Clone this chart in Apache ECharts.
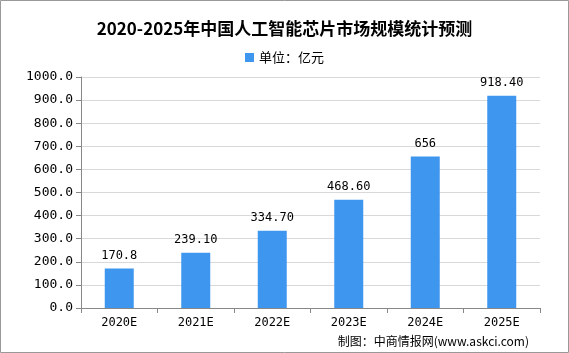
<!DOCTYPE html>
<html><head><meta charset="utf-8">
<script src="https://cdn.jsdelivr.net/npm/echarts@6/dist/echarts.min.js"></script>
<style>html,body{margin:0;padding:0;background:#fff}#c{width:569px;height:353px}</style>
</head><body><div id="c"></div>
<script>
const categories = ['2020E','2021E','2022E','2023E','2024E','2025E'];
const values = [170.8, 239.1, 334.7, 468.6, 656, 918.4];
const valueLabels = ['170.8','239.10','334.70','468.60','656','918.40'];
const seriesName = '单位：亿元';
const titleText = '2020-2025年中国人工智能芯片市场规模统计预测';
const sourceText = '制图：中商情报网(www.askci.com)';

const chart = echarts.init(document.getElementById('c'));
chart.setOption({
  animation: false,
  title: {text: titleText, left: 'center', top: 15,
    textStyle: {fontSize: 17, fontWeight: 'bold', color: '#000', fontFamily: 'Noto Sans CJK SC'}},
  legend: {data: [{name: seriesName, icon: 'rect'}], top: 46, left: 'center', itemWidth: 9, itemHeight: 9, itemGap: 4,
    textStyle: {fontSize: 13, color: '#000', fontFamily: 'Noto Sans CJK SC'}},
  grid: {left: 81, right: 29, top: 77, bottom: 45},
  xAxis: {type: 'category', data: categories,
    axisLine: {lineStyle: {color: '#888'}},
    axisTick: {show: true, length: 5, lineStyle: {color: '#888'}},
    axisLabel: {color: '#000', fontSize: 12, margin: 9, fontFamily: 'DejaVu Sans Mono'}},
  yAxis: {type: 'value', min: 0, max: 1000, interval: 100,
    axisLine: {show: true, lineStyle: {color: '#888'}},
    axisTick: {show: true, length: 5, lineStyle: {color: '#888'}},
    splitLine: {lineStyle: {color: '#d9d9d9'}},
    axisLabel: {color: '#000', fontSize: 13, margin: 8, fontFamily: 'DejaVu Sans Mono',
      formatter: v => v.toFixed(1)}},
  series: [{name: seriesName, type: 'bar', data: values, barWidth: 29,
    itemStyle: {color: '#3f96ee'},
    label: {show: true, position: 'top', distance: 7, color: '#000', fontSize: 12, fontFamily: 'DejaVu Sans Mono',
      formatter: p => valueLabels[p.dataIndex]}}],
  graphic: [
    {type: 'rect', shape: {x: 0.5, y: 0.5, width: 568, height: 352}, style: {fill: 'none', stroke: '#999', lineWidth: 1}, silent: true},
    {type: 'text', right: 40, bottom: 6, style: {text: sourceText, fontSize: 12, fill: '#000', fontFamily: 'Noto Sans CJK SC'}}
  ]
});
</script></body></html>
